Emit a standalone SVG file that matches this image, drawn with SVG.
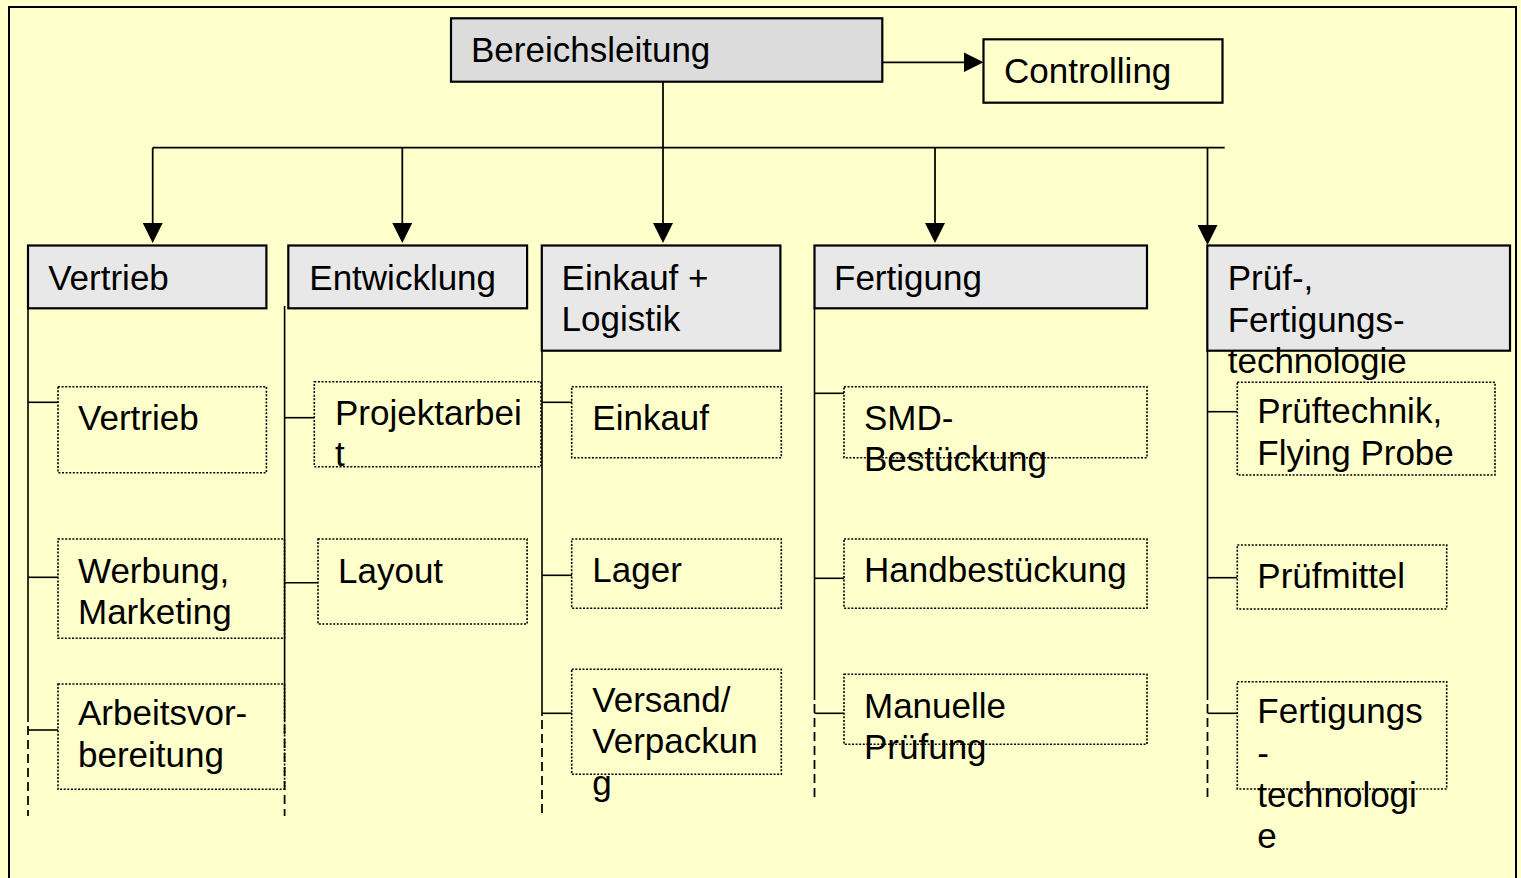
<svg xmlns="http://www.w3.org/2000/svg" width="1521" height="878" viewBox="0 0 1521 878">
<defs>
<style>
.t{font-family:"Liberation Sans",Arial,sans-serif;font-size:35px;fill:#000}
.main{fill:#E8E8E8;stroke:#000;stroke-width:2.2}
.top{fill:#DCDCDC;stroke:#000;stroke-width:2.2}
.ctrl{fill:none;stroke:#000;stroke-width:2.2}
.sub{fill:none;stroke:#000;stroke-width:1.6;stroke-dasharray:2 1.6}
.ln{stroke:#000;stroke-width:1.75;fill:none}
.dash{stroke:#000;stroke-width:1.75;fill:none;stroke-dasharray:9 5}
.stub{stroke:#000;stroke-width:1.6;fill:none}
</style>
<marker id="ah" viewBox="0 0 20 20" refX="10" refY="10" markerWidth="20" markerHeight="20" markerUnits="userSpaceOnUse" orient="auto">
<path d="M0,0 L20,10 L0,20 z" fill="#000"/>
</marker>
</defs>
<rect x="0" y="0" width="1521" height="878" fill="#FFFFCC"/>
<rect x="9" y="7" width="1507" height="900" fill="#FFFFCC" stroke="#000" stroke-width="2"/>

<g id="connectors">
<line class="ln" x1="878" y1="62.3" x2="973.5" y2="62.3" marker-end="url(#ah)"/>
<line class="ln" x1="152.7" y1="147.7" x2="1224.7" y2="147.7"/>
<line class="ln" x1="663" y1="82" x2="663" y2="233" marker-end="url(#ah)"/>
<line class="ln" x1="152.7" y1="147.7" x2="152.7" y2="233" marker-end="url(#ah)"/>
<line class="ln" x1="402.3" y1="147.7" x2="402.3" y2="233" marker-end="url(#ah)"/>
<line class="ln" x1="935" y1="147.7" x2="935" y2="233" marker-end="url(#ah)"/>
<line class="ln" x1="1207.5" y1="147.7" x2="1207.5" y2="235" marker-end="url(#ah)"/>
<!-- column lines -->
<line class="stub" x1="28" y1="308" x2="28" y2="722"/>
<line class="dash" x1="28" y1="726" x2="28" y2="816"/>
<line class="stub" x1="284.6" y1="306" x2="284.6" y2="721"/>
<line class="dash" x1="284.6" y1="725" x2="284.6" y2="816"/>
<line class="stub" x1="542" y1="350" x2="542" y2="716"/>
<line class="dash" x1="542" y1="720" x2="542" y2="816"/>
<line class="stub" x1="814.5" y1="308" x2="814.5" y2="700"/>
<line class="dash" x1="814.5" y1="704" x2="814.5" y2="802"/>
<line class="stub" x1="1207.5" y1="350" x2="1207.5" y2="700"/>
<line class="dash" x1="1207.5" y1="704" x2="1207.5" y2="802"/>
<!-- stubs -->
<line class="stub" x1="28" y1="402.3" x2="58" y2="402.3"/>
<line class="stub" x1="28" y1="577.3" x2="58" y2="577.3"/>
<line class="stub" x1="28" y1="730" x2="58" y2="730"/>
<line class="stub" x1="284.6" y1="417.7" x2="314" y2="417.7"/>
<line class="stub" x1="284.6" y1="582.7" x2="318" y2="582.7"/>
<line class="stub" x1="542" y1="402.3" x2="572" y2="402.3"/>
<line class="stub" x1="542" y1="575.3" x2="572" y2="575.3"/>
<line class="stub" x1="542" y1="713.3" x2="572" y2="713.3"/>
<line class="stub" x1="814.5" y1="393.3" x2="844" y2="393.3"/>
<line class="stub" x1="814.5" y1="578.3" x2="844" y2="578.3"/>
<line class="stub" x1="814.5" y1="713.3" x2="844" y2="713.3"/>
<line class="stub" x1="1207.5" y1="411.7" x2="1237" y2="411.7"/>
<line class="stub" x1="1207.5" y1="577.7" x2="1237" y2="577.7"/>
<line class="stub" x1="1207.5" y1="713.3" x2="1237" y2="713.3"/>
</g>

<g id="bereichsleitung"><rect class="top" x="451" y="18.3" width="431.3" height="63.4"/><text class="t" x="471" y="62">Bereichsleitung</text></g>
<g id="controlling"><rect class="ctrl" x="983.5" y="39.3" width="239" height="63.4"/><text class="t" x="1004" y="83">Controlling</text></g>

<g id="vertrieb-head"><rect class="main" x="28" y="245.5" width="238.4" height="62.8"/><text class="t" x="48.2" y="290">Vertrieb</text></g>
<g id="entwicklung-head"><rect class="main" x="288.3" y="245.5" width="238.8" height="62.8"/><text class="t" x="309.3" y="290">Entwicklung</text></g>
<g id="einkauf-head"><rect class="main" x="541.8" y="245.5" width="238.6" height="105.2"/><text class="t" x="561.6" y="290">Einkauf +<tspan x="561.6" y="331">Logistik</tspan></text></g>
<g id="fertigung-head"><rect class="main" x="814.5" y="245.5" width="332.5" height="62.8"/><text class="t" x="834" y="290">Fertigung</text></g>
<g id="pruef-head"><rect class="main" x="1207.3" y="245.5" width="302.7" height="105.2"/><text class="t" x="1227.7" y="290">Prüf-,<tspan x="1227.7" y="331.7">Fertigungs-</tspan><tspan x="1227.7" y="372.7">technologie</tspan></text></g>

<g id="vertrieb-sub"><rect class="sub" x="58" y="386.7" width="208.4" height="86"/><text class="t" x="78" y="430">Vertrieb</text></g>
<g id="werbung"><rect class="sub" x="58" y="539" width="226.6" height="99.3"/><text class="t" x="78" y="583.3">Werbung,<tspan x="78" y="624">Marketing</tspan></text></g>
<g id="arbeitsvorbereitung"><rect class="sub" x="58" y="684" width="226.6" height="105.3"/><text class="t" x="78" y="725">Arbeitsvor-<tspan x="78" y="767">bereitung</tspan></text></g>
<g id="projektarbeit"><rect class="sub" x="314.3" y="381.7" width="226.7" height="85"/><text class="t" x="335" y="425">Projektarbei<tspan x="335" y="466">t</tspan></text></g>
<g id="layout"><rect class="sub" x="318" y="539" width="209.1" height="85"/><text class="t" x="338" y="583">Layout</text></g>
<g id="einkauf"><rect class="sub" x="571.7" y="386.7" width="209.6" height="71"/><text class="t" x="592.3" y="430">Einkauf</text></g>
<g id="lager"><rect class="sub" x="571.7" y="539" width="209.6" height="69.3"/><text class="t" x="592.3" y="582">Lager</text></g>
<g id="versand"><rect class="sub" x="571.7" y="669.3" width="209.6" height="105"/><text class="t" x="592.3" y="712">Versand/<tspan x="592.3" y="753.3">Verpackun</tspan><tspan x="592.3" y="795">g</tspan></text></g>
<g id="smd"><rect class="sub" x="844" y="386.7" width="303" height="71"/><text class="t" x="864" y="430">SMD-<tspan x="864" y="471">Bestückung</tspan></text></g>
<g id="handbestueckung"><rect class="sub" x="844" y="539" width="303" height="69.3"/><text class="t" x="864" y="582">Handbestückung</text></g>
<g id="manuelle-pruefung"><rect class="sub" x="844" y="674.3" width="303" height="70"/><text class="t" x="864" y="718.3">Manuelle<tspan x="864" y="759.3">Prüfung</tspan></text></g>
<g id="prueftechnik"><rect class="sub" x="1237.3" y="382.3" width="257.7" height="92.7"/><text class="t" x="1257.3" y="423.3">Prüftechnik,<tspan x="1257.3" y="465">Flying Probe</tspan></text></g>
<g id="pruefmittel"><rect class="sub" x="1237.3" y="545" width="209.4" height="64"/><text class="t" x="1257.3" y="588.3">Prüfmittel</text></g>
<g id="fertigungstechnologie"><rect class="sub" x="1237.3" y="681.7" width="209.4" height="107.3"/><text class="t" x="1257.3" y="723.3">Fertigungs<tspan x="1257.3" y="764.5">-</tspan><tspan x="1257.3" y="806.7">technologi</tspan><tspan x="1257.3" y="848.3">e</tspan></text></g>
</svg>
